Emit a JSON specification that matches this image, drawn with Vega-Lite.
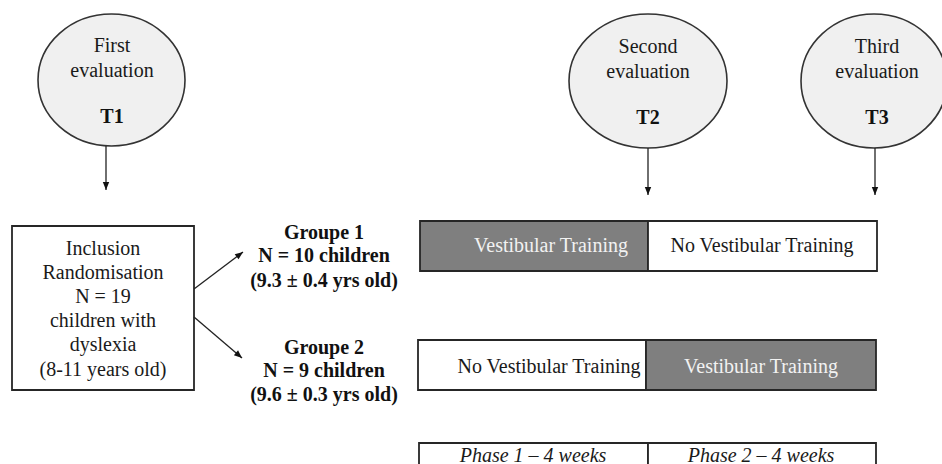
{
  "$schema": "https://vega.github.io/schema/vega-lite/v6.json",
  "width": 942,
  "height": 464,
  "padding": 0,
  "autosize": {"type": "none"},
  "background": "#ffffff",
  "config": {"view": {"stroke": null}},
  "datasets": {
    "boxes": [
      {"id": "inclusion", "kind": "light", "x": 12, "x2": 194, "y": 226, "y2": 390},
      {"id": "g1p1", "kind": "dark", "x": 420, "x2": 648, "y": 221, "y2": 271},
      {"id": "g1p2", "kind": "light", "x": 648, "x2": 877, "y": 221, "y2": 271},
      {"id": "g2p1", "kind": "light", "x": 418, "x2": 646, "y": 340, "y2": 390},
      {"id": "g2p2", "kind": "dark", "x": 646, "x2": 876, "y": 340, "y2": 390},
      {"id": "ph1", "kind": "light", "x": 419, "x2": 648, "y": 443, "y2": 475},
      {"id": "ph2", "kind": "light", "x": 648, "x2": 876, "y": 443, "y2": 475}
    ],
    "evals": [
      {"id": "T1", "x": 111.5, "y": 80},
      {"id": "T2", "x": 648, "y": 81},
      {"id": "T3", "x": 874, "y": 81}
    ],
    "arrows": [
      {"id": "a1", "x": 106, "y": 146, "x2": 106, "y2": 190},
      {"id": "a2", "x": 648, "y": 148, "x2": 648, "y2": 195},
      {"id": "a3", "x": 875, "y": 148, "x2": 875, "y2": 195},
      {"id": "a4", "x": 194, "y": 289, "x2": 243, "y2": 252},
      {"id": "a5", "x": 194, "y": 317, "x2": 242, "y2": 358}
    ],
    "labels": [
      {"style": "normal", "x": 112, "y": 46, "text": "First"},
      {"style": "normal", "x": 112, "y": 71, "text": "evaluation"},
      {"style": "bold", "x": 112, "y": 117, "text": "T1"},
      {"style": "normal", "x": 648, "y": 47, "text": "Second"},
      {"style": "normal", "x": 648, "y": 72, "text": "evaluation"},
      {"style": "bold", "x": 648, "y": 118, "text": "T2"},
      {"style": "normal", "x": 877, "y": 47, "text": "Third"},
      {"style": "normal", "x": 877, "y": 72, "text": "evaluation"},
      {"style": "bold", "x": 877, "y": 118, "text": "T3"},
      {"style": "normal", "x": 103, "y": 249, "text": "Inclusion"},
      {"style": "normal", "x": 103, "y": 273, "text": "Randomisation"},
      {"style": "normal", "x": 103, "y": 297, "text": "N = 19"},
      {"style": "normal", "x": 103, "y": 321, "text": "children with"},
      {"style": "normal", "x": 103, "y": 345, "text": "dyslexia"},
      {"style": "normal", "x": 103, "y": 370, "text": "(8-11 years old)"},
      {"style": "bold", "x": 324, "y": 233, "text": "Groupe 1"},
      {"style": "bold", "x": 324, "y": 256, "text": "N = 10 children"},
      {"style": "bold", "x": 324, "y": 281, "text": "(9.3 ± 0.4 yrs old)"},
      {"style": "bold", "x": 324, "y": 348, "text": "Groupe 2"},
      {"style": "bold", "x": 324, "y": 371, "text": "N = 9 children"},
      {"style": "bold", "x": 324, "y": 395, "text": "(9.6 ± 0.3 yrs old)"},
      {"style": "onDark", "x": 551, "y": 246, "text": "Vestibular Training"},
      {"style": "normal", "x": 762, "y": 246, "text": "No Vestibular Training"},
      {"style": "normal", "x": 549, "y": 367, "text": "No Vestibular Training"},
      {"style": "onDark", "x": 761, "y": 367, "text": "Vestibular Training"},
      {"style": "italic", "x": 533, "y": 456, "text": "Phase 1 – 4 weeks"},
      {"style": "italic", "x": 761, "y": 456, "text": "Phase 2 – 4 weeks"}
    ]
  },
  "encoding": {
    "x": {"field": "x", "type": "quantitative", "scale": {"domain": [0, 942], "nice": false, "zero": false}, "axis": null},
    "y": {"field": "y", "type": "quantitative", "scale": {"domain": [0, 464], "nice": false, "zero": false, "reverse": true}, "axis": null}
  },
  "layer": [
    {
      "data": {"name": "boxes"},
      "mark": {"type": "rect", "stroke": "#262626", "strokeWidth": 1.8},
      "encoding": {
        "x2": {"field": "x2"},
        "y2": {"field": "y2"},
        "fill": {"field": "kind", "type": "nominal", "scale": {"domain": ["dark", "light"], "range": ["#7f7f7f", "#ffffff"]}, "legend": null}
      }
    },
    {
      "data": {"name": "evals"},
      "transform": [{"filter": "datum.id === 'T1'"}],
      "mark": {"type": "point", "filled": true, "fill": "#f0f0f0", "stroke": "#333333", "strokeWidth": 1.6, "opacity": 1, "fillOpacity": 1, "shape": "M-1,0 A1,0.898 0 1,1 1,0 A1,0.898 0 1,1 -1,0 Z", "size": 21609}
    },
    {
      "data": {"name": "evals"},
      "transform": [{"filter": "datum.id === 'T2'"}],
      "mark": {"type": "point", "filled": true, "fill": "#f0f0f0", "stroke": "#333333", "strokeWidth": 1.6, "opacity": 1, "fillOpacity": 1, "shape": "M-1,0 A1,0.848 0 1,1 1,0 A1,0.848 0 1,1 -1,0 Z", "size": 24964}
    },
    {
      "data": {"name": "evals"},
      "transform": [{"filter": "datum.id === 'T3'"}],
      "mark": {"type": "point", "filled": true, "fill": "#f0f0f0", "stroke": "#333333", "strokeWidth": 1.6, "opacity": 1, "fillOpacity": 1, "shape": "M-1,0 A1,0.918 0 1,1 1,0 A1,0.918 0 1,1 -1,0 Z", "size": 21316}
    },
    {
      "data": {"name": "arrows"},
      "mark": {"type": "rule", "stroke": "#222222", "strokeWidth": 1.3},
      "encoding": {"x2": {"field": "x2"}, "y2": {"field": "y2"}}
    },
    {
      "data": {"name": "arrows"},
      "transform": [{"filter": "datum.x === datum.x2"}],
      "mark": {"type": "point", "filled": true, "fill": "#111111", "stroke": null, "opacity": 1, "shape": "M0,0 L-0.4,-1 L0.4,-1 Z", "size": 256},
      "encoding": {"x": {"field": "x2", "type": "quantitative"}, "y": {"field": "y2", "type": "quantitative"}}
    },
    {
      "data": {"name": "arrows"},
      "transform": [{"filter": "datum.id === 'a4'"}],
      "mark": {"type": "point", "filled": true, "fill": "#111111", "stroke": null, "opacity": 1, "shape": "M0,0 L-0.4,-1 L0.4,-1 Z", "size": 256, "angle": 233},
      "encoding": {"x": {"field": "x2", "type": "quantitative"}, "y": {"field": "y2", "type": "quantitative"}}
    },
    {
      "data": {"name": "arrows"},
      "transform": [{"filter": "datum.id === 'a5'"}],
      "mark": {"type": "point", "filled": true, "fill": "#111111", "stroke": null, "opacity": 1, "shape": "M0,0 L-0.4,-1 L0.4,-1 Z", "size": 256, "angle": 311},
      "encoding": {"x": {"field": "x2", "type": "quantitative"}, "y": {"field": "y2", "type": "quantitative"}}
    },
    {
      "data": {"name": "labels"},
      "transform": [{"filter": "datum.style === 'normal'"}],
      "mark": {"type": "text", "align": "center", "baseline": "middle", "color": "#1a1a1a", "font": "Liberation Serif", "fontSize": 20},
      "encoding": {"text": {"field": "text", "type": "nominal"}}
    },
    {
      "data": {"name": "labels"},
      "transform": [{"filter": "datum.style === 'bold'"}],
      "mark": {"type": "text", "align": "center", "baseline": "middle", "color": "#111111", "fontWeight": "bold", "font": "Liberation Serif", "fontSize": 20},
      "encoding": {"text": {"field": "text", "type": "nominal"}}
    },
    {
      "data": {"name": "labels"},
      "transform": [{"filter": "datum.style === 'onDark'"}],
      "mark": {"type": "text", "align": "center", "baseline": "middle", "color": "#f2f2f2", "font": "Liberation Serif", "fontSize": 20},
      "encoding": {"text": {"field": "text", "type": "nominal"}}
    },
    {
      "data": {"name": "labels"},
      "transform": [{"filter": "datum.style === 'italic'"}],
      "mark": {"type": "text", "align": "center", "baseline": "middle", "color": "#1a1a1a", "fontStyle": "italic", "font": "Liberation Serif", "fontSize": 20},
      "encoding": {"text": {"field": "text", "type": "nominal"}}
    }
  ]
}
